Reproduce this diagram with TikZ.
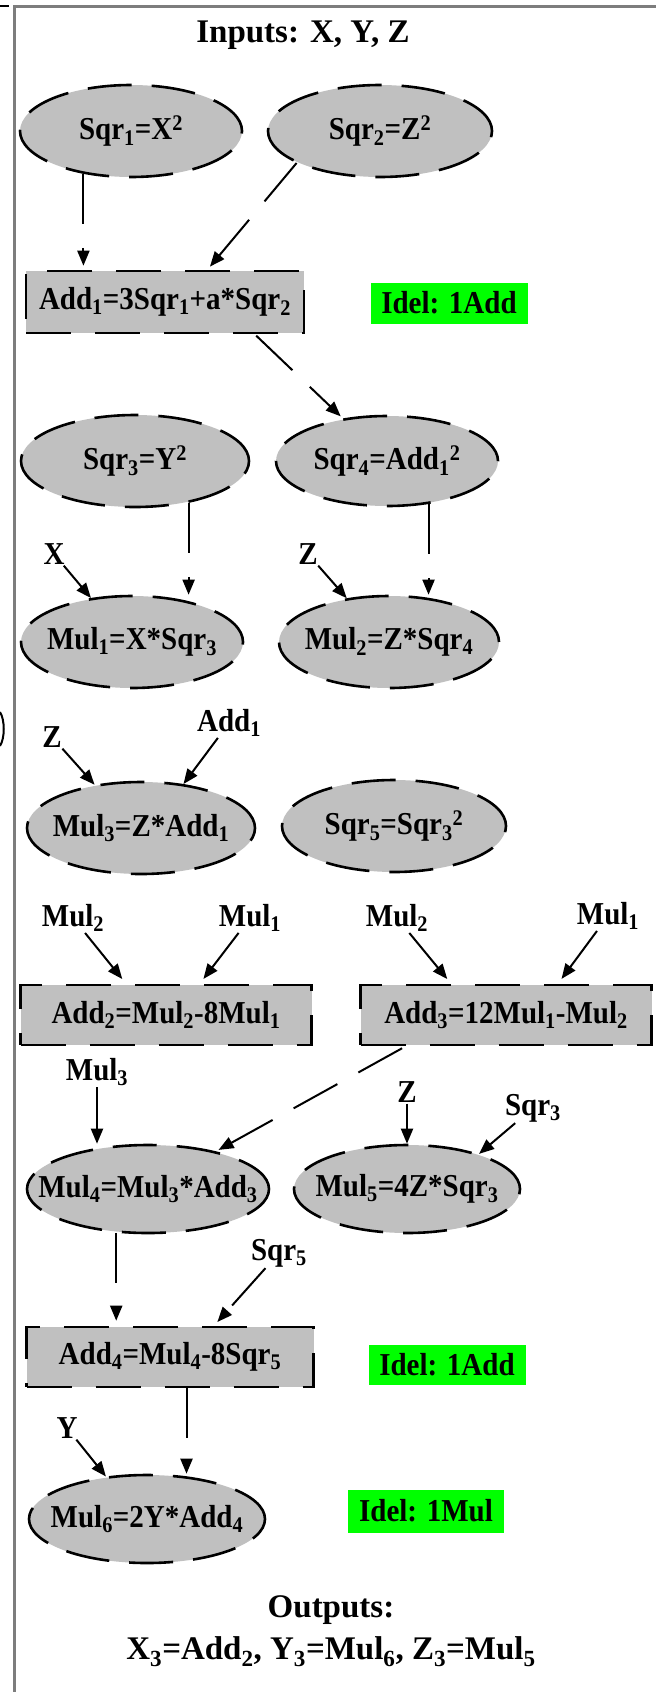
\documentclass[tikz,border=0pt]{standalone}
\usepackage{fontspec}
\usepackage{graphicx}
\setmainfont{Liberation Serif}
\usetikzlibrary{shapes.geometric,arrows.meta,calc}

\definecolor{boxgray}{RGB}{192,192,192}
\definecolor{idlegreen}{RGB}{0,255,0}
\definecolor{framegray}{RGB}{125,125,125}

\newcommand{\sbs}[1]{\textsubscript{#1}}
\newcommand{\sps}[1]{\textsuperscript{#1}}
% slightly tall lettering, centred on a zero-width box
\newcommand{\tall}[1]{\scalebox{1}[1.1]{#1}}
\newcommand{\zw}[1]{\makebox[0pt]{\tall{#1}}}

\begin{document}
\begin{tikzpicture}[x=1pt,y=-1pt,
  txt/.style={font=\fontsize{29}{34}\selectfont\bfseries},
  bigtxt/.style={font=\fontsize{33}{42}\selectfont\bfseries},
  ell/.style 2 args={ellipse, draw, line width=2.6pt, fill=boxgray,
    dash pattern=on 44pt off 20pt, inner sep=0pt, txt,
    minimum width=#1pt, minimum height=#2pt},
  opbox/.style 2 args={rectangle, draw, line width=2.6pt, fill=boxgray,
    dash pattern=on 45pt off 24pt, inner sep=0pt, txt,
    minimum width=#1pt, minimum height=#2pt},
  idle/.style 2 args={rectangle, fill=idlegreen, inner sep=0pt, txt,
    minimum width=#1pt, minimum height=#2pt},
  lbl/.style={txt, inner sep=1pt},
  edge/.style={line width=2pt, dash pattern=on 50pt off 24pt,
    -{Triangle[length=15pt,width=12pt]}}]

\useasboundingbox (0,0) rectangle (656,1692);

% frame pieces
\draw[framegray, line width=3pt] (14,1692) -- (14,6) -- (656,6);
\draw[line width=2.5pt] (0,6) -- (9,6);
\draw[line width=2pt] (0,712) .. controls (5,720) and (5,738) .. (0,746);

% title
\node[bigtxt] (title) at (303,35) {Inputs: X, Y, Z};

% operations
\node[ell={222}{92}] (Sqr1) at (131,131) {\zw{Sqr\sbs{1}=X\sps{2}}};
\node[ell={224}{92}] (Sqr2) at (380,131) {\zw{Sqr\sbs{2}=Z\sps{2}}};
\node[opbox={278}{62}] (Add1) at (165,302) {\zw{Add\sbs{1}=3Sqr\sbs{1}+a*Sqr\sbs{2}}};
\node[idle={157}{41}] (idle1) at (449,303) {\tall{Idel: 1Add}};

\node[ell={228}{92}] (Sqr3) at (135,461) {\zw{Sqr\sbs{3}=Y\sps{2}}};
\node[ell={222}{90}] (Sqr4) at (387,461) {\zw{Sqr\sbs{4}=Add\sbs{1}\sps{2}}};

\node[ell={222}{92}] (Mul1) at (132,642) {\zw{Mul\sbs{1}=X*Sqr\sbs{3}}};
\node[ell={220}{92}] (Mul2) at (389,642) {\zw{Mul\sbs{2}=Z*Sqr\sbs{4}}};

\node[ell={228}{92}] (Mul3) at (141,828) {\zw{Mul\sbs{3}=Z*Add\sbs{1}}};
\node[ell={224}{92}] (Sqr5) at (394,826) {\zw{Sqr\sbs{5}=Sqr\sbs{3}\sps{2}}};

\node[opbox={291}{60}] (Add2) at (166,1015) {\zw{Add\sbs{2}=Mul\sbs{2}-8Mul\sbs{1}}};
\node[opbox={291}{60}] (Add3) at (506,1015) {\zw{Add\sbs{3}=12Mul\sbs{1}-Mul\sbs{2}}};

\node[ell={242}{88}] (Mul4) at (148,1189) {\zw{Mul\sbs{4}=Mul\sbs{3}*Add\sbs{3}}};
\node[ell={226}{88}] (Mul5) at (407,1189) {\zw{Mul\sbs{5}=4Z*Sqr\sbs{3}}};

\node[opbox={287}{60}] (Add4) at (170,1357) {\zw{Add\sbs{4}=Mul\sbs{4}-8Sqr\sbs{5}}};
\node[idle={157}{40}] (idle2) at (447,1365) {\tall{Idel: 1Add}};

\node[ell={236}{88}] (Mul6) at (147,1519) {\zw{Mul\sbs{6}=2Y*Add\sbs{4}}};
\node[idle={156}{43}] (idle3) at (426,1511) {\tall{Idel: 1Mul}};

% outputs
\node[bigtxt, align=center] (outs) at (331,1631)
  {Outputs:\\X\sbs{3}=Add\sbs{2}, Y\sbs{3}=Mul\sbs{6}, Z\sbs{3}=Mul\sbs{5}};

% operand labels
\node[lbl] (lX)    at (54,554)   {\tall{X}};
\node[lbl] (lZa)   at (308,554)  {\tall{Z}};
\node[lbl] (lZb)   at (52,737)   {\tall{Z}};
\node[lbl] (lAdd1) at (229,723)  {\tall{Add\sbs{1}}};
\node[lbl] (lMul2a) at (73,918)  {\tall{Mul\sbs{2}}};
\node[lbl] (lMul1a) at (250,918) {\tall{Mul\sbs{1}}};
\node[lbl] (lMul2b) at (397,918) {\tall{Mul\sbs{2}}};
\node[lbl] (lMul1b) at (608,916) {\tall{Mul\sbs{1}}};
\node[lbl] (lMul3) at (97,1072)  {\tall{Mul\sbs{3}}};
\node[lbl] (lZc)   at (407,1092) {\tall{Z}};
\node[lbl] (lSqr3) at (533,1108) {\tall{Sqr\sbs{3}}};
\node[lbl] (lSqr5) at (279,1253) {\tall{Sqr\sbs{5}}};
\node[lbl] (lY)    at (67,1428)  {\tall{Y}};

% data flow
\draw[edge, shorten >=4pt] (Sqr1.222) -- (Sqr1.222 |- Add1.north);
\draw[edge, shorten >=4pt] (Sqr2.201) -- ($(Add1.north west)!0.651!(Add1.north east)$);
\draw[edge, shorten <=2pt, shorten >=3pt] ($(Add1.south west)!0.82!(Add1.south east)$) -- (Sqr4.136);
\draw[edge] (Sqr3.322) -- (Sqr3.322 |- Mul1.north);
\draw[edge] (Sqr4.314) -- (Sqr4.314 |- Mul2.north);
\draw[edge] (lX) -- (Mul1.133);
\draw[edge] (lZa) -- (Mul2.134);
\draw[edge] (lZb) -- (Mul3.137);
\draw[edge] (lAdd1) -- (Mul3.46);
\draw[edge, shorten >=6pt] (lMul2a) -- ($(Add2.north west)!0.364!(Add2.north east)$);
\draw[edge, shorten >=6pt] (lMul1a) -- ($(Add2.north west)!0.615!(Add2.north east)$);
\draw[edge, shorten >=6pt] (lMul2b) -- ($(Add3.north west)!0.313!(Add3.north east)$);
\draw[edge, shorten >=6pt] (lMul1b) -- ($(Add3.north west)!0.677!(Add3.north east)$);
\draw[edge] (lMul3) -- (lMul3 |- Mul4.north);
\draw[edge, shorten <=4pt, shorten >=3pt] ($(Add3.south west)!0.158!(Add3.south east)$) -- (Mul4.29);
\draw[edge] (lZc) -- (Mul5.north);
\draw[edge] (lSqr3) -- (Mul5.26);
\draw[edge, shorten >=5pt] (Mul4.234) -- (Mul4.234 |- Add4.north);
\draw[edge, shorten >=5pt] (lSqr5) -- ($(Add4.north west)!0.652!(Add4.north east)$);
\coordinate (a4out) at ($(Add4.south west)!0.557!(Add4.south east)$);
\draw[edge] (a4out) -- (a4out |- Mul6.north);
\draw[edge] (lY) -- (Mul6.134);

\end{tikzpicture}
\end{document}
